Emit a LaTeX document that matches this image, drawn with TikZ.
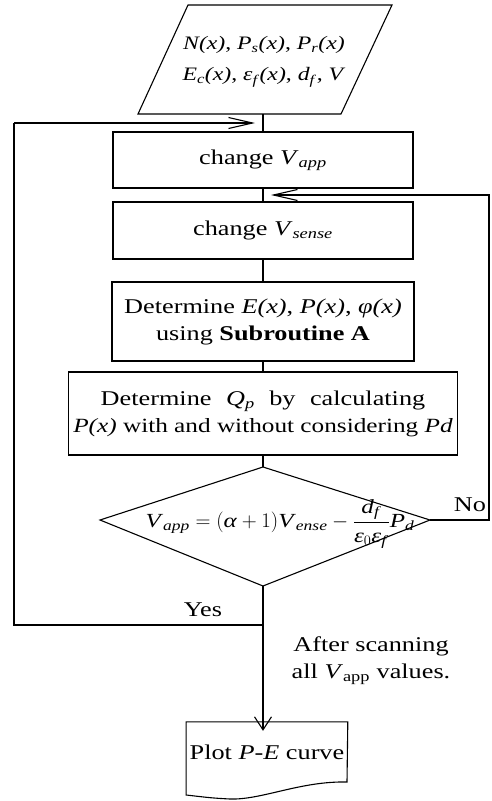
\documentclass[tikz,border=0pt]{standalone}
\usepackage{amsmath,amssymb}
\usepackage{fontspec}
\setmainfont{Liberation Serif}[FakeStretch=1.25]
\usetikzlibrary{arrows.meta}

\newcommand{\ti}[1]{\text{\textit{#1}}}
\newcommand{\sub}[1]{\textsubscript{\textit{#1}}}

\tikzset{
  flowbox/.style={draw, line width=1.1pt, inner sep=0pt, align=center},
  flowline/.style={line width=1.1pt},
  harrow/.style={flowline, -{Straight Barb[length=24pt,width=11pt,line width=1.1pt]}},
  varrow/.style={flowline, -{Straight Barb[length=13pt,width=17pt,line width=1.1pt]}},
}

\begin{document}
\begin{tikzpicture}[x=1pt, y=-1pt, font=\fontsize{21}{27}\selectfont]
  \useasboundingbox (0,0) rectangle (491,801);
  % input data
  \coordinate (inTL) at (188,5);  \coordinate (inTR) at (392,5);
  \coordinate (inBR) at (341,114); \coordinate (inBL) at (138,114);
  \coordinate (inS) at (263,114);
  \draw[flowline] (inTL) -- (inTR) -- (inBR) -- (inBL) -- cycle;
  \node[align=center, font=\fontsize{19}{25}\selectfont] (input) at (264,62)
    {\textit{N(x)}, \textit{P}\sub{s}\textit{(x)}, \textit{P}\sub{r}\textit{(x)}\\[6pt]
     \textit{E}\sub{c}\textit{(x)}, \textit{ε}\sub{f}\textit{(x)}, \textit{d}\sub{f}, \textit{V}};
  % process boxes
  \node[flowbox, minimum width=300pt, minimum height=56pt] (vapp) at (263,160)
    {change \textit{V}\sub{app}};
  \node[flowbox, minimum width=300pt, minimum height=57pt] (vsense) at (263,230.5)
    {change \textit{V}\sub{sense}};
  \node[flowbox, minimum width=302pt, minimum height=79pt] (detE) at (263,321.5)
    {Determine \textit{E(x)}, \textit{P(x)}, \textit{φ(x)}\\using \textbf{Subroutine A}};
  \node[flowbox, minimum width=389pt, minimum height=83pt] (detQ) at (263,413.5)
    {Determine\hspace{8pt} \textit{Q}\sub{p}\hspace{8pt} by\hspace{8pt} calculating\\
     {\fontsize{20.2}{27}\selectfont\textit{P(x)} with and without considering \textit{Pd}}};
  % decision
  \coordinate (dT) at (263,467); \coordinate (dR) at (430,520);
  \coordinate (dB) at (263,586); \coordinate (dL) at (100,520);
  \draw[flowline] (dT) -- (dR) -- (dB) -- (dL) -- cycle;
  \node[font=\fontsize{20}{24}\selectfont] (cond) at (280,524)
    {$\ti{V}_{\ti{app}} = (\ti{α}+1)\ti{V}_{\ti{ense}} - \dfrac{\ti{d}_{\ti{f}}}{\ti{ε}_0\ti{ε}_{\ti{f}}}\ti{P}_{\ti{d}}$};
  % output
  \node[minimum width=160pt, minimum height=60pt] (plot) at (267,752)
    {Plot \textit{P-E} curve};
  \draw[flowline] (plot.north west) -- (plot.north east) -- (347,782)
    .. controls (300,781) and (262,800) .. (230,799)
    .. controls (212,798) .. (plot.north west |- 0,795) -- cycle;
  % connectors
  \draw[flowline] (inS) -- (vapp);
  \draw[flowline] (vapp) -- (vsense);
  \draw[flowline] (vsense) -- (detE);
  \draw[flowline] (detE) -- (detQ);
  \draw[flowline] (detQ) -- (dT);
  \coordinate (noTop) at (489,195); \coordinate (noEnd) at (271,195);
  \draw[harrow] (dR) -| (noTop) -- (noEnd);
  \coordinate (yesC) at (263,625); \coordinate (yesTop) at (14,123);
  \coordinate (yesEnd) at (255,123);
  \draw[flowline] (yesC) -| (yesTop);
  \draw[harrow] (yesTop) -- (yesEnd);
  \draw[varrow] (dB) -- ([yshift=-9pt]dB |- plot.north);
  % labels
  \node (yes) at (203,610) {Yes};
  \node (no) at (470,505) {No};
  \node[align=center] (scan) at (371,661)
    {After scanning\\all \textit{V}\textsubscript{app} values.};
\end{tikzpicture}
\end{document}
